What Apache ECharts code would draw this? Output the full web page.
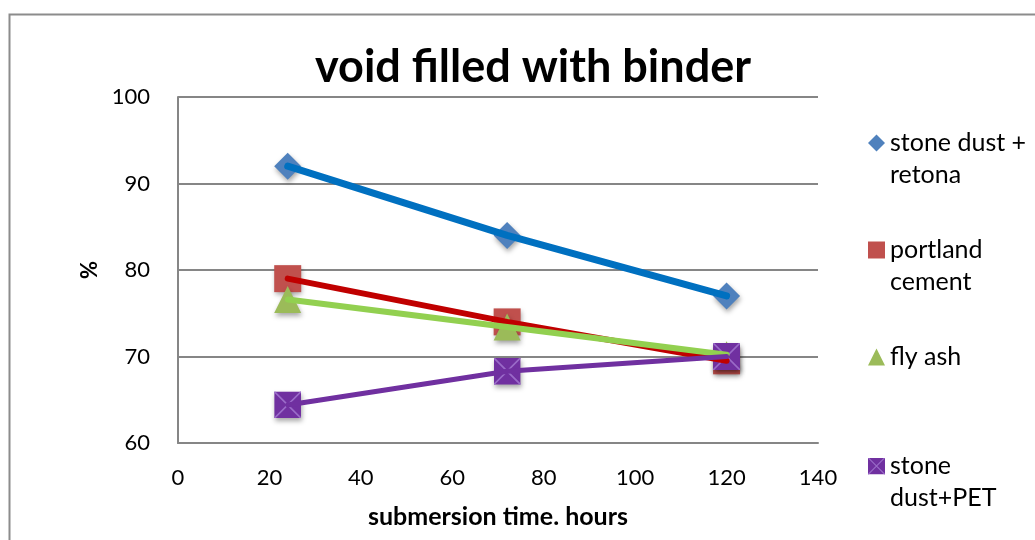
<!DOCTYPE html>
<html>
<head>
<meta charset="utf-8">
<script src="https://cdn.jsdelivr.net/npm/echarts@6/dist/echarts.min.js"></script>
<style>
  html, body { margin: 0; padding: 0; background: #fff; }
  #chart { width: 1035px; height: 540px; }
</style>
</head>
<body>
<div id="chart"></div>
<script>
// Submersion time (hours) on the x axis
const hours = [24, 72, 120];

// Percentage of void filled with binder, one array per binder
const seriesNames = ['stone dust + retona', 'portland cement', 'fly ash', 'stone dust+PET'];
const legendLabels = ['stone dust +\nretona', 'portland\ncement', 'fly ash', 'stone\ndust+PET'];
const stoneDustRetona = [92, 84, 77];
const portlandCement = [79, 74, 69.5];
const flyAsh = [76.6, 73.4, 70.2];
const stoneDustPET = [64.4, 68.3, 70];

const xTicks = [0, 20, 40, 60, 80, 100, 120, 140];
const yTicks = [60, 70, 80, 90, 100];

const FONT = 'Lato, "Noto Sans", sans-serif';

// Square marker with a light cross, used for stone dust+PET
const crossSquare = 'image://data:image/svg+xml;charset=utf-8,' + encodeURIComponent(
  "<svg xmlns='http://www.w3.org/2000/svg' width='40' height='40' viewBox='0 0 40 40'>" +
  "<rect width='40' height='40' fill='#7030A0'/>" +
  "<path d='M0 0L40 40M40 0L0 40' stroke='#9A6BC8' stroke-width='2.5'/></svg>");

const valueSets = [stoneDustRetona, portlandCement, flyAsh, stoneDustPET];
const lineColors = ['#0070C0', '#C00000', '#92D050', '#7030A0'];
const markerColors = ['#4F81BD', '#C0504D', '#9BBB59', '#7030A0'];
const markerSymbols = ['diamond', 'rect', 'triangle', crossSquare];
const markerSizes = [27, 27, 27, 27];
const lineWidths = [7, 6, 6, 5];

function pairs(vals) { return hours.map((h, i) => [h, vals[i]]); }

const series = [];
// markers sit underneath the connecting lines
valueSets.forEach((vals, i) => {
  series.push({
    name: seriesNames[i] + ' markers',
    type: 'scatter',
    data: pairs(vals),
    symbol: markerSymbols[i],
    symbolSize: markerSizes[i],
    z: 2,
    silent: true,
    itemStyle: {
      color: markerColors[i],
      opacity: 1,
      shadowColor: 'rgba(0,0,0,0.35)',
      shadowBlur: 5,
      shadowOffsetX: 1,
      shadowOffsetY: 3
    }
  });
});
valueSets.forEach((vals, i) => {
  series.push({
    name: seriesNames[i],
    type: 'line',
    data: pairs(vals),
    showSymbol: false,
    symbol: markerSymbols[i],
    z: 3,
    silent: true,
    itemStyle: { color: markerColors[i] },
    lineStyle: { color: lineColors[i], width: lineWidths[i], cap: 'round' },
    emphasis: { disabled: true }
  });
});

// one legend block per binder, stacked on the right; a blank leading line
// keeps the icon level with the first line of a two-line label
const legendTops = [95, 202, 341, 418];
const legends = seriesNames.map((name, i) => {
  const twoLines = legendLabels[i].indexOf('\n') >= 0;
  const label = twoLines ? '\u00a0\n' + legendLabels[i] : legendLabels[i];
  return {
    orient: 'vertical',
    left: 868,
    top: legendTops[i],
    padding: 0,
    itemWidth: 17,
    itemHeight: 17,
    itemGap: 0,
    selectedMode: false,
    data: [{ name: name, icon: markerSymbols[i] }],
    formatter: () => label,
    textStyle: {
      fontFamily: FONT,
      fontSize: 25,
      color: '#000',
      lineHeight: 32
    }
  };
});

const chart = echarts.init(document.getElementById('chart'), null, { renderer: 'canvas' });
chart.setOption({
  backgroundColor: '#ffffff',
  animation: false,
  title: {
    text: 'void filled with binder',
    left: 528,
    top: 40,
    textAlign: 'center',
    textStyle: { fontFamily: FONT, fontSize: 45, fontWeight: 'bold', color: '#000' }
  },
  graphic: [{
    type: 'rect',
    shape: { x: 9.5, y: 14.5, width: 1200, height: 700 },
    style: { fill: 'none', stroke: '#8C8C8C', lineWidth: 2 },
    silent: true,
    z: -1
  }],
  legend: legends,
  grid: { left: 178, top: 97, right: 217, bottom: 97 },
  xAxis: {
    type: 'value',
    min: xTicks[0],
    max: xTicks[xTicks.length - 1],
    interval: xTicks[1] - xTicks[0],
    name: 'submersion time. hours',
    nameLocation: 'middle',
    nameGap: 61,
    nameTextStyle: { fontFamily: FONT, fontSize: 25, fontWeight: 'bold', color: '#000' },
    axisLine: { show: true, lineStyle: { color: '#868686', width: 2 } },
    axisTick: { show: false },
    splitLine: { show: false },
    axisLabel: { fontFamily: FONT, fontSize: 22, color: '#000', margin: 24 }
  },
  yAxis: {
    type: 'value',
    min: yTicks[0],
    max: yTicks[yTicks.length - 1],
    interval: yTicks[1] - yTicks[0],
    name: '%',
    nameLocation: 'middle',
    nameGap: 76,
    nameTextStyle: { fontFamily: FONT, fontSize: 22, fontWeight: 'bold', color: '#000' },
    axisLine: { show: true, lineStyle: { color: '#868686', width: 2 } },
    axisTick: { show: false },
    splitLine: { show: true, lineStyle: { color: '#868686', width: 2 } },
    axisLabel: { fontFamily: FONT, fontSize: 22, color: '#000', margin: 28 }
  },
  series: series
});
</script>
</body>
</html>
